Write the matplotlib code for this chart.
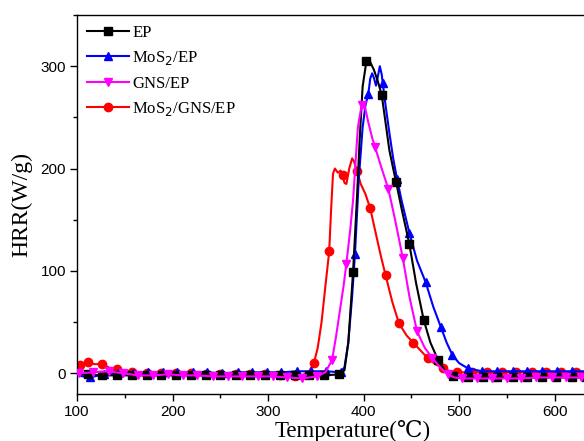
"""HRR curves of EP and its MoS2 / GNS composites."""
import matplotlib
matplotlib.use("Agg")
import matplotlib.pyplot as plt
from matplotlib.ticker import MultipleLocator

plt.rcParams.update({"font.family": ["Liberation Serif", "DejaVu Serif"]})

# ---- data (T in degC, HRR in W/g) ----
ep_T = [100, 111, 126, 142, 157, 173, 188, 204, 219, 235, 250, 266, 281, 297, 312, 328,
        343, 359, 374, 380, 384, 389, 393, 396, 399, 403, 407, 411, 415, 419, 423, 427,
        431, 434, 440, 444, 448, 455, 463, 470, 478, 485, 494, 509, 525, 540, 556, 571,
        587, 602, 618, 633, 640]
ep_H = [-1, -1, -2, -2, -2, -2, -2, -2, -2, -2, -2, -2, -2, -2, -2, -2,
        -2, -2, -1, 3, 30, 99, 170, 230, 280, 305, 304, 296, 285, 272, 245, 218,
        200, 187, 160, 143, 126, 88, 52, 30, 13, 3, -3, -4, -4, -4, -4, -4,
        -4, -4, -4, -4, -4]
ep_mk = [111, 126, 142, 157, 173, 188, 204, 219, 235, 250, 266, 281, 297, 312, 328, 343,
         359, 374, 389, 403, 419, 434, 448, 463, 478, 494, 509, 525, 540, 556, 571, 587,
         602, 618, 633]

mos_T = [100, 113, 128, 143, 159, 174, 190, 205, 221, 236, 252, 268, 283, 299, 314, 330,
         345, 361, 376, 380, 384, 388, 391, 395, 399, 402, 405, 407, 409, 411, 413, 415,
         417, 419, 420, 423, 427, 431, 435, 440, 448, 456, 465, 473, 481, 487, 493, 500,
         509, 524, 540, 556, 571, 587, 603, 618, 634, 640]
mos_H = [-2, -4, -1, 0, 0, 1, 1, 1, 1, 1, 0, 1, 1, 1, 1, 2,
         2, 2, 1, 6, 30, 75, 117, 190, 240, 262, 273, 288, 293, 288, 281, 290,
         300, 292, 284, 262, 235, 210, 190, 168, 137, 110, 89, 65, 45, 30, 18, 10,
         5, 2, 2, 2, 2, 2, 2, 2, 2, 2]
mos_mk = [113, 128, 143, 159, 174, 190, 205, 221, 236, 252, 268, 283, 299, 314, 330, 345,
          361, 376, 391, 405, 420, 435, 448, 465, 481, 493, 509, 524, 540, 556, 571, 587,
          603, 618, 634]

gns_T = [100, 102, 117, 133, 148, 164, 180, 195, 211, 226, 242, 258, 273, 289, 305, 320,
         336, 351, 360, 367, 371, 375, 379, 382, 386, 389, 394, 398, 401, 405, 409, 412,
         419, 426, 433, 441, 448, 456, 464, 472, 480, 488, 495, 503, 519, 534, 550, 565,
         581, 597, 612, 628, 640]
gns_H = [0, 0, 1, 2, 0, -2, -2, -1, -2, -2, -3, -3, -3, -3, -3, -4,
         -5, -3, 1, 13, 35, 60, 85, 107, 140, 169, 240, 262, 262, 245, 230, 221,
         200, 180, 150, 113, 75, 41, 25, 15, 6, -1, -4, -5, -5, -5, -5, -5,
         -4, -4, -4, -4, -4]
gns_mk = [102, 117, 133, 148, 164, 180, 195, 211, 226, 242, 258, 273, 289, 305, 320, 336,
          351, 367, 382, 398, 412, 426, 441, 456, 472, 488, 503, 519, 534, 550, 565, 581,
          597, 612, 628]

mg_T = [100, 103, 111, 118, 126, 135, 142, 157, 173, 188, 204, 219, 235, 250, 266, 281,
        297, 312, 328, 338, 343, 348, 352, 356, 360, 364, 366, 368, 370, 373, 376, 378,
        380, 382, 385, 388, 390, 393, 397, 402, 407, 412, 418, 423, 430, 437, 445, 452,
        460, 467, 475, 483, 490, 498, 514, 529, 545, 560, 576, 591, 607, 622, 638, 640]
mg_H = [5, 8, 11, 9, 9, 5, 4, 1, 0, 0, 0, 0, -1, -1, -1, -1,
        -1, -2, -3, -1, 2, 10, 25, 50, 85, 119, 160, 195, 200, 196, 198, 194,
        186, 185, 200, 210, 207, 198, 185, 175, 161, 140, 115, 96, 70, 49, 37, 30,
        22, 15, 9, 5, 2, 1, 1, 1, 1, 1, 1, 1, 1, 1, 1, 1]
mg_mk = [103, 111, 126, 142, 157, 173, 188, 204, 219, 235, 250, 266, 281, 297, 312, 328,
         348, 364, 378, 393, 407, 423, 437, 452, 467, 483, 498, 514, 529, 545, 560, 576,
         591, 607, 622, 638]

series = [
    (ep_T, ep_H, ep_mk, "black", "s", "EP", 4),
    (mos_T, mos_H, mos_mk, "#0000ff", "^", "MoS$_2$/EP", 3),
    (gns_T, gns_H, gns_mk, "#ff00ff", "v", "GNS/EP", 5),
    (mg_T, mg_H, mg_mk, "#ff0000", "o", "MoS$_2$/GNS/EP", 2),
]

fig = plt.figure(figsize=(5.84, 4.41), dpi=100)
ax = fig.add_axes([0.132, 0.107, 0.883, 0.859])

for T, H, mk, c, m, lab, z in series:
    idx = [T.index(t) for t in mk]
    ax.plot(T, H, color=c, lw=1.5, marker=m, ms=6, markevery=idx,
            label=lab, zorder=z)

ax.set_xlim(100, 640)
ax.set_ylim(-20, 350)
ax.xaxis.set_major_locator(MultipleLocator(100))
ax.xaxis.set_minor_locator(MultipleLocator(50))
ax.yaxis.set_major_locator(MultipleLocator(100))
ax.yaxis.set_minor_locator(MultipleLocator(50))
ax.tick_params(which="both", direction="out", top=False, right=False)
ax.tick_params(which="major", length=5, width=1, pad=3)
ax.tick_params(which="minor", length=3, width=1)
for lbl in ax.get_xticklabels() + ax.get_yticklabels():
    lbl.set_family(["Liberation Sans", "DejaVu Sans"])
    lbl.set_fontsize(11)
for s in ax.spines.values():
    s.set_linewidth(1.0)

ax.set_xlabel("Temperature(℃)", fontsize=16.5)
ax.xaxis.label.set_va("baseline")
ax.xaxis.set_label_coords(0.535, -0.113)
ax.set_ylabel("HRR(W/g)", fontsize=17, labelpad=6)
ax.legend(loc="upper left", frameon=False, fontsize=12, handlelength=2.5,
          handletextpad=0.2, labelspacing=0.5, borderaxespad=0.2)

fig.savefig("out.png", dpi=100)
